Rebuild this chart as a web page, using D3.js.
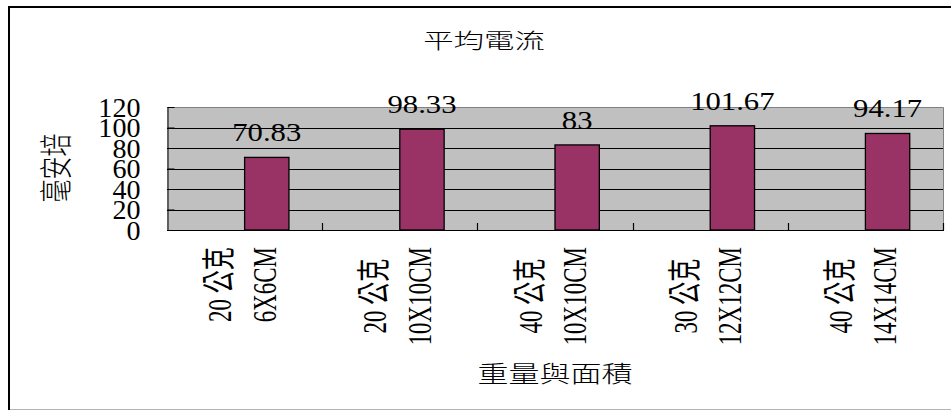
<!DOCTYPE html>
<html>
<head>
<meta charset="utf-8">
<script src="https://cdn.jsdelivr.net/npm/d3@7"></script>
<style>
  html, body { margin: 0; padding: 0; background: #fff; }
  svg { display: block; }
  .serif { font-family: "Liberation Serif", "Noto Sans CJK TC", serif; fill: #000; }
  .cjk { font-family: "Noto Sans CJK TC", "Noto Sans CJK SC", sans-serif; font-weight: 300; fill: #000; }
</style>
</head>
<body>
<svg id="chart" width="951" height="410"></svg>
<script>
// Chart text
const title = "平均電流";
const yTitle = "毫安培";
const xTitle = "重量與面積";

// Categories (two label lines each) and average current values
const weights = ["20 公克", "20 公克", "40 公克", "30 公克", "40 公克"];
const sizes = ["6X6CM", "10X10CM", "10X10CM", "12X12CM", "14X14CM"];
const values = [70.83, 98.33, 83, 101.67, 94.17];
const yTicks = [0, 20, 40, 60, 80, 100, 120];
// Two slots per category; the measured series sits in the second one
const slots = ["blank", "current"];

const svg = d3.select("#chart");
const plot = { left: 167, right: 943, top: 107, bottom: 230 };

const x = d3.scaleBand()
  .domain(d3.range(values.length))
  .range([plot.left, plot.right]);
const xSlot = d3.scaleBand()
  .domain(slots)
  .range([0, x.bandwidth()])
  .paddingInner(0)
  .paddingOuter(0.75);
const y = d3.scaleLinear()
  .domain([0, 120])
  .range([plot.bottom, plot.top]);

// Outer frame
svg.append("line").attr("x1", 9).attr("x2", 9).attr("y1", 6).attr("y2", 410)
  .attr("stroke", "#000").attr("stroke-width", 2);
svg.append("line").attr("x1", 8).attr("x2", 951).attr("y1", 7).attr("y2", 7)
  .attr("stroke", "#000").attr("stroke-width", 2);
svg.append("line").attr("x1", 10).attr("x2", 951).attr("y1", 409.5).attr("y2", 409.5)
  .attr("stroke", "#b4b4b4").attr("stroke-width", 1);

// Plot area
svg.append("rect")
  .attr("x", plot.left).attr("y", plot.top)
  .attr("width", plot.right - plot.left).attr("height", plot.bottom - plot.top)
  .attr("fill", "#c0c0c0");

// Gridlines
svg.append("g")
  .selectAll("line")
  .data(yTicks.filter(t => t > 0 && t < 120))
  .join("line")
  .attr("x1", plot.left).attr("x2", plot.right)
  .attr("y1", d => Math.round(y(d)) + 0.5).attr("y2", d => Math.round(y(d)) + 0.5)
  .attr("stroke", "#000").attr("stroke-width", 1);

// Plot border (top and right)
svg.append("path")
  .attr("d", `M${plot.left},${plot.top + 0.5}H${plot.right + 0.5}V${plot.bottom}`)
  .attr("fill", "none").attr("stroke", "#808080").attr("stroke-width", 1);

// Bars
svg.append("g")
  .selectAll("rect")
  .data(values)
  .join("rect")
  .attr("x", (d, i) => x(i) + xSlot("current"))
  .attr("y", d => y(d))
  .attr("width", xSlot.bandwidth())
  .attr("height", d => y(0) - y(d))
  .attr("fill", "#993366")
  .attr("stroke", "#000")
  .attr("stroke-width", 1.3);

// Value labels
svg.append("g")
  .selectAll("text")
  .data(values)
  .join("text")
  .attr("class", "serif")
  .attr("text-anchor", "middle")
  .attr("font-size", 26)
  .attr("transform", (d, i) =>
    `translate(${x(i) + xSlot("current") + xSlot.bandwidth() / 2},${y(d) - 16}) scale(1.18,1)`)
  .text(d => String(d));

// Y axis
const yAxis = svg.append("g")
  .attr("transform", `translate(${plot.left + 0.5},0)`)
  .call(d3.axisLeft(y).tickValues(yTicks).tickSizeInner(-7).tickSizeOuter(0).tickPadding(26));
yAxis.select(".domain").attr("stroke", "#000");
yAxis.selectAll(".tick line").attr("stroke", "#000");
yAxis.selectAll(".tick text")
  .attr("class", "serif")
  .attr("font-size", 27)
  .attr("dy", "0.34em")
  .attr("transform", "scale(1.04,1)");
yAxis.attr("font-family", null).attr("font-size", null);

// X axis line and ticks at category boundaries
svg.append("line")
  .attr("x1", plot.left).attr("x2", plot.right + 1)
  .attr("y1", plot.bottom + 0.5).attr("y2", plot.bottom + 0.5)
  .attr("stroke", "#000").attr("stroke-width", 1.2);
svg.append("g")
  .selectAll("line")
  .data(d3.range(values.length))
  .join("line")
  .attr("x1", i => Math.round(x(i) + x.bandwidth()) + 0.5)
  .attr("x2", i => Math.round(x(i) + x.bandwidth()) + 0.5)
  .attr("y1", plot.bottom - 7).attr("y2", plot.bottom)
  .attr("stroke", "#000").attr("stroke-width", 1.2);

// Category labels: two rotated lines, centred on each other, ending near the axis
const catGroup = svg.append("g");
d3.range(values.length).forEach(i => {
  const cx = x(i) + x.bandwidth() / 2;
  const lines = [weights[i], sizes[i]];
  const offsets = [-25.5, 19];
  const nodes = lines.map((txt, j) =>
    catGroup.append("text")
      .attr("class", "serif")
      .attr("font-size", 23)
      .attr("text-anchor", "middle")
      .attr("dy", "0.35em")
      .text(txt));
  const maxLen = d3.max(nodes, n => n.node().getComputedTextLength());
  const cy = plot.bottom + 17 + maxLen / 2;
  nodes.forEach((n, j) =>
    n.attr("transform", `translate(${cx + offsets[j]},${cy}) scale(1.5,1) rotate(-90)`));
});

// Titles
svg.append("text")
  .attr("class", "cjk")
  .attr("font-size", 21)
  .attr("text-anchor", "middle")
  .attr("dy", "0.35em")
  .attr("transform", "translate(484,41) scale(1.45,1)")
  .text(title);

svg.append("text")
  .attr("class", "cjk")
  .attr("font-size", 23)
  .attr("text-anchor", "middle")
  .attr("dy", "0.35em")
  .attr("transform", `translate(${(plot.left + plot.right) / 2},374) scale(1.35,1)`)
  .text(xTitle);

svg.append("text")
  .attr("class", "cjk")
  .attr("font-size", 23)
  .attr("text-anchor", "middle")
  .attr("dy", "0.35em")
  .attr("transform", "translate(56,168) scale(1.45,1) rotate(-90)")
  .text(yTitle);
</script>
</body>
</html>
